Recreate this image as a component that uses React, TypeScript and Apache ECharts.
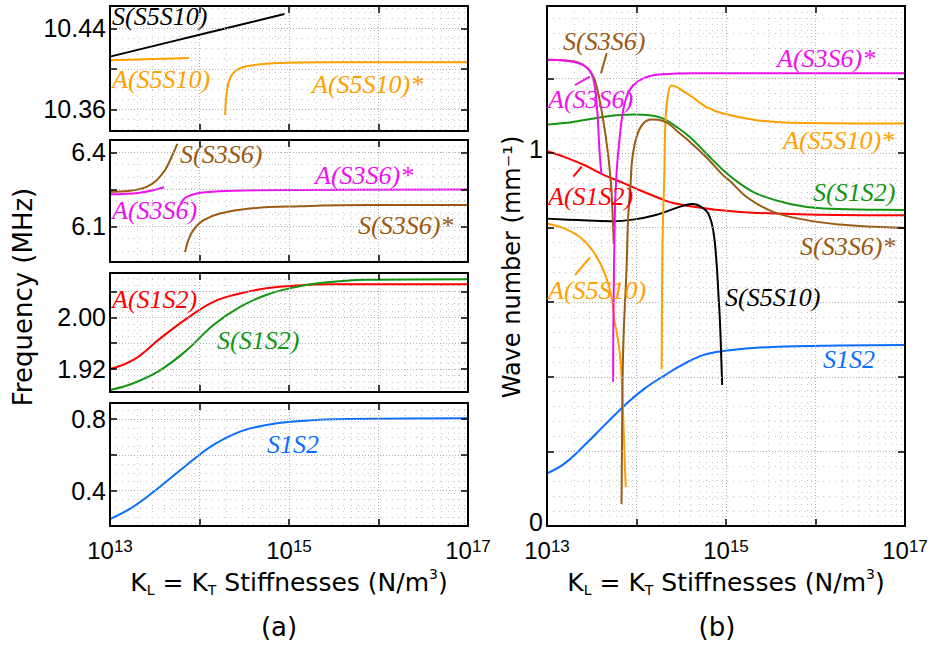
import React, { useEffect, useRef } from 'react';
import * as echarts from 'echarts';

// ---------- axes / ticks ----------
const X_MIN = 1e13;
const X_MAX = 1e17;
const X_DECADES = [1e13, 1e14, 1e15, 1e16, 1e17];
const X_LABELS = [1e13, 1e15, 1e17];
const X_MINOR = [
  2e13, 3e13, 4e13, 5e13, 6e13, 7e13, 8e13, 9e13,
  2e14, 3e14, 4e14, 5e14, 6e14, 7e14, 8e14, 9e14,
  2e15, 3e15, 4e15, 5e15, 6e15, 7e15, 8e15, 9e15,
  2e16, 3e16, 4e16, 5e16, 6e16, 7e16, 8e16, 9e16,
];

const P1_RANGE = [10.3386, 10.462];
const P1_MAJOR = [10.36, 10.4, 10.44];
const P1_LABELS = [10.36, 10.44];
const P1_MINOR = [10.34, 10.35, 10.37, 10.38, 10.39, 10.41, 10.42, 10.43, 10.45, 10.46];

const P2_RANGE = [5.955, 6.45];
const P2_MAJOR = [6.1, 6.25, 6.4];
const P2_LABELS = [6.1, 6.4];
const P2_MINOR = [6.0, 6.05, 6.15, 6.2, 6.3, 6.35];

const P3_RANGE = [1.8844, 2.0686];
const P3_MAJOR = [1.92, 1.96, 2.0, 2.04];
const P3_LABELS = [1.92, 2.0];
const P3_MINOR = [1.89, 1.9, 1.91, 1.93, 1.94, 1.95, 1.97, 1.98, 1.99, 2.01, 2.02, 2.03, 2.05, 2.06];

const P4_RANGE = [0.202, 0.891];
const P4_MAJOR = [0.4, 0.6, 0.8];
const P4_LABELS = [0.4, 0.8];
const P4_MINOR = [0.25, 0.3, 0.35, 0.45, 0.5, 0.55, 0.65, 0.7, 0.75, 0.85];

const P5_RANGE = [0, 1.394];
const P5_MAJOR = [0, 0.2, 0.4, 0.6, 0.8, 1.0, 1.2];
const P5_LABELS = [0, 1];
const P5_MINOR = [
  0.04, 0.08, 0.12, 0.16, 0.24, 0.28, 0.32, 0.36, 0.44, 0.48, 0.52, 0.56,
  0.64, 0.68, 0.72, 0.76, 0.84, 0.88, 0.92, 0.96, 1.04, 1.08, 1.12, 1.16,
  1.24, 1.28, 1.32, 1.36,
];

// ---------- (a) frequency data, MHz ----------
const F_S_S5S10 = [[1.0e13, 10.412], [1.0e14, 10.4336], [8.9e14, 10.4541]];
const F_A_S5S10 = [[1.0e13, 10.4084], [3.0e13, 10.4097], [7.6e13, 10.4107]];
const F_A_S5S10s = [
  [1.93e14, 10.3544], [2.01e14, 10.3758], [2.19e14, 10.3906], [2.61e14, 10.3988],
  [3.66e14, 10.4031], [6.68e14, 10.4054], [3.13e15, 10.4064], [1.0e17, 10.4065],
];

const F_S_S3S6 = [
  [1.0e13, 6.24], [1.67e13, 6.244], [2.57e13, 6.26], [3.32e13, 6.287],
  [4.12e13, 6.328], [4.89e13, 6.382], [5.65e13, 6.434],
];
const F_A_S3S6 = [[1.0e13, 6.23], [2.16e13, 6.236], [4.01e13, 6.258]];
const F_A_S3S6s = [
  [6.1e13, 6.19], [6.6e13, 6.208], [7.19e13, 6.219], [1.01e14, 6.236],
  [2.39e14, 6.244], [1.33e15, 6.247], [1.0e17, 6.249],
];
const F_S_S3S6s = [
  [6.89e13, 5.995], [7.5e13, 6.043], [8.53e13, 6.084], [1.1e14, 6.124],
  [1.69e14, 6.152], [3.66e14, 6.172], [1.33e15, 6.181], [7.38e15, 6.186], [1.0e17, 6.186],
];

const F_A_S1S2 = [
  [1.0e13, 1.92], [1.82e13, 1.934], [3.62e13, 1.967], [7.19e13, 1.998], [1.43e14, 2.024],
  [2.84e14, 2.037], [5.64e14, 2.045], [1.12e15, 2.049], [3.13e15, 2.051], [1.0e17, 2.051],
];
const F_S_S1S2 = [
  [1.0e13, 1.8875], [1.82e13, 1.898], [3.62e13, 1.918], [7.19e13, 1.949], [1.43e14, 1.988],
  [2.84e14, 2.016], [5.64e14, 2.035], [1.12e15, 2.046], [2.22e15, 2.053], [7.38e15, 2.058],
  [1.0e17, 2.059],
];

const F_S1S2 = [
  [1.0e13, 0.241], [1.82e13, 0.31], [3.62e13, 0.422], [7.19e13, 0.544], [1.43e14, 0.656],
  [2.84e14, 0.731], [5.64e14, 0.768], [1.12e15, 0.787], [3.13e15, 0.8], [1.0e17, 0.806],
];

// ---------- (b) wave number data, 1/mm ----------
const K_A_S3S6 = [
  [1.0e13, 1.25], [1.58e13, 1.248], [2.22e13, 1.241], [2.76e13, 1.23], [3.14e13, 1.213],
  [3.42e13, 1.177], [3.66e13, 1.106], [3.88e13, 0.998], [4.06e13, 0.943],
];
const K_S_S3S6 = [
  [1.0e13, 1.25], [1.58e13, 1.248], [2.22e13, 1.243], [2.88e13, 1.226], [3.42e13, 1.195],
  [3.88e13, 1.141], [4.42e13, 1.061], [4.9e13, 0.98], [5.02e13, 0.954], [5.25e13, 0.9],
  [5.57e13, 0.757],
];
const K_A_S3S6s = [
  [5.48e13, 0.387], [5.52e13, 0.55], [5.75e13, 0.85], [6.0e13, 0.95], [6.34e13, 1.016],
  [6.9e13, 1.096], [7.73e13, 1.15], [9.16e13, 1.181], [1.24e14, 1.202], [1.91e14, 1.211],
  [4.49e14, 1.214], [1.0e17, 1.214],
];
const K_S_S3S6s = [
  [6.8e13, 0.059], [7.0e13, 0.4], [7.2e13, 0.52], [7.73e13, 0.686], [8.05e13, 0.82],
  [8.63e13, 0.927], [8.93e13, 0.98], [1.0e14, 1.043], [1.19e14, 1.079], [1.47e14, 1.09],
  [1.75e14, 1.089], [2.26e14, 1.079], [2.92e14, 1.056], [3.94e14, 1.03], [6.06e14, 0.988],
  [9.31e14, 0.94], [1.11e15, 0.925], [1.7e15, 0.882], [3.37e15, 0.842], [7.98e15, 0.82],
  [1.88e16, 0.808], [4.44e16, 0.802], [1.0e17, 0.799],
];
const K_S_S1S2 = [
  [1.0e13, 1.076], [1.95e13, 1.083], [4.61e13, 1.098], [9.16e13, 1.103], [1.41e14, 1.101],
  [1.99e14, 1.092], [2.8e14, 1.07], [3.94e14, 1.043], [6.06e14, 0.998], [9.31e14, 0.954],
  [1.43e15, 0.918], [2.2e15, 0.891], [5.19e15, 0.863], [1.22e16, 0.851], [4.44e16, 0.848],
  [1.0e17, 0.847],
];
const K_A_S1S2 = [
  [1.0e13, 1.0045], [1.58e13, 0.989], [2.64e13, 0.967], [4.42e13, 0.94], [7.4e13, 0.918],
  [1.09e14, 0.9], [1.67e14, 0.882], [2.56e14, 0.866], [6.06e14, 0.851], [1.43e15, 0.842],
  [7.98e15, 0.835], [1.0e17, 0.833],
];
const K_S_S5S10 = [
  [1.0e13, 0.824], [2.22e13, 0.82], [5.25e13, 0.817], [9.57e13, 0.822], [1.6e14, 0.833],
  [2.46e14, 0.848], [3.47e14, 0.86], [4.3e14, 0.863], [5.33e14, 0.855], [6.32e14, 0.838],
  [7.19e14, 0.793], [7.85e14, 0.704], [8.26e14, 0.614], [8.55e14, 0.552], [9.06e14, 0.378],
];
const K_A_S5S10 = [
  [1.0e13, 0.811], [1.58e13, 0.797], [2.43e13, 0.771], [3.42e13, 0.73], [4.42e13, 0.677],
  [5.25e13, 0.614], [5.72e13, 0.543], [5.97e13, 0.525], [6.67e13, 0.436], [7.08e13, 0.302],
  [7.4e13, 0.168], [7.59e13, 0.104],
];
const K_A_S5S10s = [
  [1.91e14, 0.42], [1.95e14, 0.75], [2.05e14, 0.95], [2.11e14, 1.088], [2.26e14, 1.159],
  [2.46e14, 1.181], [2.8e14, 1.177], [3.47e14, 1.163], [4.2e14, 1.15], [6.06e14, 1.123],
  [9.31e14, 1.106], [2.2e15, 1.088], [5.19e15, 1.081], [1.0e17, 1.079],
];
const K_S1S2 = [
  [1.0e13, 0.141], [1.58e13, 0.168], [2.64e13, 0.217], [4.42e13, 0.271], [7.4e13, 0.324],
  [1.24e14, 0.369], [2.07e14, 0.404], [3.47e14, 0.436], [5.56e14, 0.458], [9.31e14, 0.469],
  [2.2e15, 0.478], [1.22e16, 0.483], [1.0e17, 0.485],
];

// ---------- styles ----------
const C = {
  black: '#000000',
  orange: '#ffa000',
  magenta: '#ee11ee',
  brown: '#9b5a14',
  red: '#ff0000',
  green: '#149614',
  blue: '#0a6eff',
};
const MAJOR_GRID = { color: '#b0b0b0', width: 1, type: [1, 2] };
const MINOR_GRID = { color: '#c4c4c4', width: 1, type: [1, 5] };
const NUM_FONT = 'Liberation Sans';
const TITLE_FONT = 'DejaVu Sans';
const LABEL_FONT = 'Liberation Serif';

function buildOption() {
  const panels = [
    { grid: { left: 110, top: 6, width: 358, height: 125 }, range: P1_RANGE, major: P1_MAJOR, labels: P1_LABELS, minor: P1_MINOR, dec: 2, showX: false, lift: false },
    { grid: { left: 110, top: 140, width: 358, height: 122 }, range: P2_RANGE, major: P2_MAJOR, labels: P2_LABELS, minor: P2_MINOR, dec: 1, showX: false, lift: false },
    { grid: { left: 110, top: 273, width: 358, height: 119 }, range: P3_RANGE, major: P3_MAJOR, labels: P3_LABELS, minor: P3_MINOR, dec: 2, showX: false, lift: false },
    { grid: { left: 110, top: 403, width: 358, height: 123 }, range: P4_RANGE, major: P4_MAJOR, labels: P4_LABELS, minor: P4_MINOR, dec: 1, showX: true, lift: false },
    { grid: { left: 547, top: 6, width: 358, height: 520 }, range: P5_RANGE, major: P5_MAJOR, labels: P5_LABELS, minor: P5_MINOR, dec: 0, showX: true, lift: true },
  ];

  const axisLine = { show: true, onZero: false, lineStyle: { color: '#000', width: 2 } };
  const tickStyle = { color: '#000', width: 1.5 };

  const grid: any[] = [];
  const xAxis: any[] = [];
  const yAxis: any[] = [];

  panels.forEach((p, g) => {
    grid.push({ ...p.grid, containLabel: false, outerBoundsMode: 'none' });
    xAxis.push({
      type: 'log', logBase: 10, gridIndex: g, min: X_MIN, max: X_MAX, position: 'bottom',
      axisLine, z: 5,
      axisTick: { show: true, inside: true, length: 7, customValues: X_DECADES, lineStyle: tickStyle },
      axisLabel: {
        show: p.showX, customValues: X_LABELS, margin: 12, color: '#000',
        formatter: (v: number) => '{b|10}{s|' + Math.round(Math.log10(v)) + '}',
        rich: {
          b: { fontFamily: NUM_FONT, fontSize: 24, lineHeight: 24, verticalAlign: 'bottom', color: '#000' },
          s: { fontFamily: NUM_FONT, fontSize: 17, lineHeight: 14, verticalAlign: 'top', color: '#000' },
        },
      },
      splitLine: { show: true, lineStyle: MAJOR_GRID },
    });
    xAxis.push({
      type: 'log', logBase: 10, gridIndex: g, min: X_MIN, max: X_MAX, position: 'top',
      axisLine, z: 5,
      axisTick: { show: true, inside: true, length: 7, customValues: X_DECADES, lineStyle: tickStyle },
      axisLabel: { show: false },
      splitLine: { show: false },
    });
    xAxis.push({
      type: 'log', logBase: 10, gridIndex: g, min: X_MIN, max: X_MAX, position: 'bottom',
      axisLine: { show: false },
      axisTick: { show: false, customValues: X_MINOR },
      axisLabel: { show: false },
      splitLine: { show: true, lineStyle: MINOR_GRID },
    });

    yAxis.push({
      type: 'value', gridIndex: g, min: p.range[0], max: p.range[1], position: 'left',
      axisLine, z: 5,
      axisTick: { show: true, inside: true, length: 7, customValues: p.major, lineStyle: tickStyle },
      axisLabel: {
        show: true, customValues: p.labels, margin: 4, color: '#000',
        fontFamily: NUM_FONT, fontSize: 25,
        lineHeight: p.lift ? 8 : 18,
        verticalAlign: p.lift ? 'bottom' : 'middle',
        formatter: (v: number) => v.toFixed(p.dec),
      },
      splitLine: { show: true, lineStyle: MAJOR_GRID },
    });
    yAxis.push({
      type: 'value', gridIndex: g, min: p.range[0], max: p.range[1], position: 'right',
      axisLine, z: 5,
      axisTick: { show: true, inside: true, length: 7, customValues: p.major, lineStyle: tickStyle },
      axisLabel: { show: false },
      splitLine: { show: false },
    });
    yAxis.push({
      type: 'value', gridIndex: g, min: p.range[0], max: p.range[1], position: 'left',
      axisLine: { show: false },
      axisTick: { show: false, customValues: p.minor },
      axisLabel: { show: false },
      splitLine: { show: true, lineStyle: MINOR_GRID },
    });
  });

  const line = (data: number[][], color: string, g: number) => ({
    type: 'line', data, xAxisIndex: 3 * g, yAxisIndex: 3 * g,
    symbol: 'none', showSymbol: false, smooth: 0.4,
    lineStyle: { color, width: 2 }, itemStyle: { color }, silent: true, z: 3,
  });

  const series = [
    line(F_S_S5S10, C.black, 0),
    line(F_A_S5S10, C.orange, 0),
    line(F_A_S5S10s, C.orange, 0),
    line(F_S_S3S6, C.brown, 1),
    line(F_A_S3S6, C.magenta, 1),
    line(F_A_S3S6s, C.magenta, 1),
    line(F_S_S3S6s, C.brown, 1),
    line(F_A_S1S2, C.red, 2),
    line(F_S_S1S2, C.green, 2),
    line(F_S1S2, C.blue, 3),
    line(K_S1S2, C.blue, 4),
    line(K_S_S1S2, C.green, 4),
    line(K_A_S1S2, C.red, 4),
    line(K_S_S5S10, C.black, 4),
    line(K_A_S5S10, C.orange, 4),
    line(K_A_S5S10s, C.orange, 4),
    line(K_S_S3S6, C.brown, 4),
    line(K_S_S3S6s, C.brown, 4),
    line(K_A_S3S6, C.magenta, 4),
    line(K_A_S3S6s, C.magenta, 4),
  ];

  const annotations: [string, number, number, string][] = [
    ['S(S5S10)', 112, 16, C.black],
    ['A(S5S10)', 112, 79, C.orange],
    ['A(S5S10)*', 312, 84, C.orange],
    ['S(S3S6)', 180, 154, C.brown],
    ['A(S3S6)*', 315, 175, C.magenta],
    ['A(S3S6)', 112, 210, C.magenta],
    ['S(S3S6)*', 358, 225, C.brown],
    ['A(S1S2)', 112, 299, C.red],
    ['S(S1S2)', 217, 340, C.green],
    ['S1S2', 267, 444, C.blue],
    ['S(S3S6)', 563, 41, C.brown],
    ['A(S3S6)*', 777, 58, C.magenta],
    ['A(S3S6)', 548, 99, C.magenta],
    ['A(S5S10)*', 783, 140, C.orange],
    ['A(S1S2)', 548, 196, C.red],
    ['S(S1S2)', 813, 192, C.green],
    ['S(S3S6)*', 800, 246, C.brown],
    ['A(S5S10)', 548, 290, C.orange],
    ['S(S5S10)', 725, 297, C.black],
    ['S1S2', 823, 359, C.blue],
  ];
  const pointers: [number, number, number, number, string][] = [
    [606.7, 53.3, 601, 73.3, C.brown],
    [575, 85, 590, 76.7, C.magenta],
    [573.3, 176.7, 581.7, 166.7, C.red],
    [575, 275, 590, 257.3, C.orange],
  ];

  const xTitle = '{m|K}{sub|L}{m| = K}{sub|T}{m| Stiffnesses (N/m}{sup|3}{m|)}';
  const xTitleRich = {
    m: { fontFamily: TITLE_FONT, fontSize: 25, lineHeight: 30, verticalAlign: 'middle', color: '#000' },
    sub: { fontFamily: TITLE_FONT, fontSize: 14, lineHeight: 14, verticalAlign: 'bottom', color: '#000' },
    sup: { fontFamily: TITLE_FONT, fontSize: 14, lineHeight: 14, verticalAlign: 'top', color: '#000' },
  };

  const graphic: any[] = [
    ...annotations.map(([text, x, y, color]) => ({
      type: 'text', x, y, z: 10, silent: true,
      style: { text, fill: color, fontFamily: LABEL_FONT, fontStyle: 'italic', fontSize: 26, align: 'left', verticalAlign: 'middle' },
    })),
    ...pointers.map(([x1, y1, x2, y2, color]) => ({
      type: 'line', z: 10, silent: true,
      shape: { x1, y1, x2, y2 }, style: { stroke: color, lineWidth: 2 },
    })),
    {
      type: 'text', x: 23, y: 297, rotation: Math.PI / 2, silent: true,
      style: { text: 'Frequency (MHz)', fill: '#000', fontFamily: TITLE_FONT, fontSize: 26, align: 'center', verticalAlign: 'middle' },
    },
    {
      type: 'text', x: 512, y: 267, rotation: Math.PI / 2, silent: true,
      style: { text: 'Wave number (mm⁻¹)', fill: '#000', fontFamily: TITLE_FONT, fontSize: 24, align: 'center', verticalAlign: 'middle' },
    },
    {
      type: 'text', x: 289, y: 582, silent: true,
      style: { text: xTitle, rich: xTitleRich, align: 'center', verticalAlign: 'middle' },
    },
    {
      type: 'text', x: 726, y: 582, silent: true,
      style: { text: xTitle, rich: xTitleRich, align: 'center', verticalAlign: 'middle' },
    },
    {
      type: 'text', x: 279, y: 627, silent: true,
      style: { text: '(a)', fill: '#000', fontFamily: TITLE_FONT, fontSize: 26, align: 'center', verticalAlign: 'middle' },
    },
    {
      type: 'text', x: 717, y: 627, silent: true,
      style: { text: '(b)', fill: '#000', fontFamily: TITLE_FONT, fontSize: 26, align: 'center', verticalAlign: 'middle' },
    },
  ];

  return {
    animation: false,
    backgroundColor: '#ffffff',
    grid, xAxis, yAxis, series, graphic,
  };
}

export default function App() {
  const ref = useRef<HTMLDivElement>(null);
  useEffect(() => {
    document.body.style.margin = '0';
    if (!ref.current) return;
    const chart = echarts.init(ref.current, undefined, { renderer: 'svg' });
    chart.setOption(buildOption() as any);
    return () => chart.dispose();
  }, []);
  return <div ref={ref} style={{ width: 930, height: 650 }} />;
}
